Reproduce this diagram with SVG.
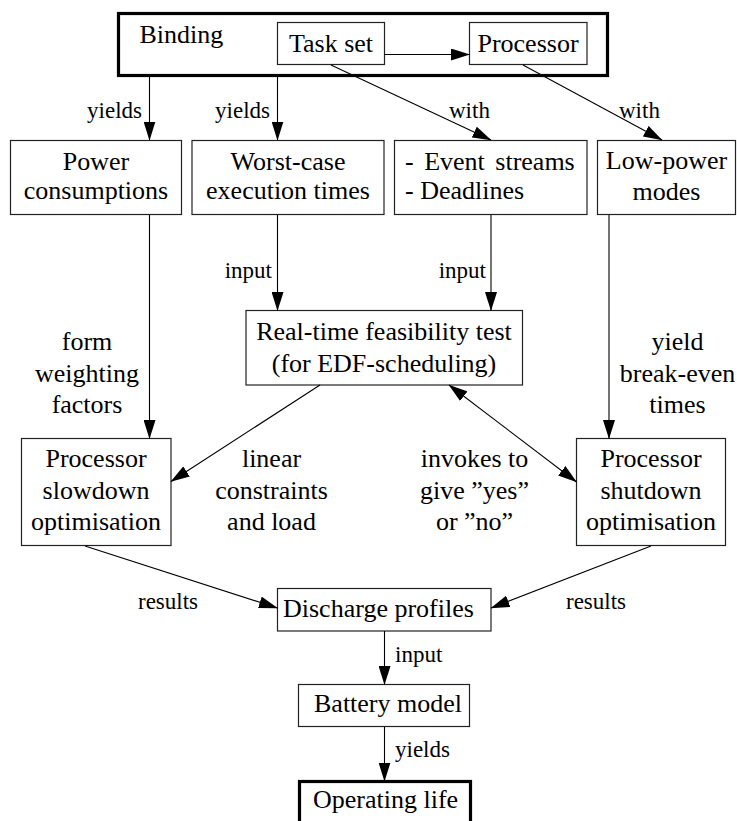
<svg xmlns="http://www.w3.org/2000/svg" width="737" height="821" viewBox="0 0 737 821">
  <defs>
    <marker id="arrow" markerUnits="userSpaceOnUse" markerWidth="19" markerHeight="12" refX="18.5" refY="6" orient="auto-start-reverse" viewBox="0 0 19 12">
      <path d="M0,0 L19,6 L0,12 z" fill="#000"/>
    </marker>
    <style>
      .box { fill: #fff; stroke: #222; stroke-width: 1.2; }
      .thick { fill: #fff; stroke: #000; stroke-width: 3.2; }
      .edge { fill: none; stroke: #000; stroke-width: 1.1; marker-end: url(#arrow); }
      .both { marker-start: url(#arrow); }
      text { font-family: "Liberation Serif", "Times New Roman", serif; fill: #000; }
      .n { font-size: 26px; text-anchor: middle; }
      .l { font-size: 26px; text-anchor: middle; }
      .s { font-size: 23px; }
    </style>
  </defs>

  <!-- nodes -->
  <g id="binding">
    <rect class="thick" x="118.5" y="13.5" width="489" height="62"/>
    <text x="139.5" y="43" style="font-size:26px">Binding</text>
  </g>
  <g id="taskset">
    <rect class="box" x="277.5" y="22.5" width="107" height="42"/>
    <text class="n" x="331" y="52">Task set</text>
  </g>
  <g id="processor">
    <rect class="box" x="469.5" y="22.5" width="117.5" height="42"/>
    <text class="n" x="528" y="52">Processor</text>
  </g>
  <g id="power">
    <rect class="box" x="10.5" y="140.5" width="171" height="74"/>
    <text class="n" x="96" y="170">Power</text>
    <text class="n" x="96" y="199">consumptions</text>
  </g>
  <g id="wcet">
    <rect class="box" x="192" y="140.5" width="192" height="74"/>
    <text class="n" x="288" y="170">Worst-case</text>
    <text class="n" x="288" y="199">execution times</text>
  </g>
  <g id="events">
    <rect class="box" x="394.5" y="140.5" width="192.5" height="74"/>
    <text x="405" y="170" style="font-size:26px;word-spacing:4px">- Event streams</text>
    <text x="405" y="199" style="font-size:26px">- Deadlines</text>
  </g>
  <g id="lowpower">
    <rect class="box" x="597.5" y="140.5" width="138" height="74"/>
    <text class="n" x="666.5" y="169">Low-power</text>
    <text class="n" x="666.5" y="200">modes</text>
  </g>
  <g id="feasibility">
    <rect class="box" x="246" y="310.5" width="276.5" height="74.5"/>
    <text class="n" x="384" y="339.5">Real-time feasibility test</text>
    <text class="n" x="384" y="371.5">(for EDF-scheduling)</text>
  </g>
  <g id="slowdown">
    <rect class="box" x="21.5" y="438.5" width="149.5" height="107"/>
    <text class="n" x="96" y="467">Processor</text>
    <text class="n" x="96" y="499">slowdown</text>
    <text class="n" x="96" y="530">optimisation</text>
  </g>
  <g id="shutdown">
    <rect class="box" x="576.5" y="438.5" width="149" height="107"/>
    <text class="n" x="651" y="467">Processor</text>
    <text class="n" x="651" y="499">shutdown</text>
    <text class="n" x="651" y="530">optimisation</text>
  </g>
  <g id="discharge">
    <rect class="box" x="277.5" y="588.5" width="213.5" height="42.5"/>
    <text x="283" y="617" style="font-size:26px">Discharge profiles</text>
  </g>
  <g id="battery">
    <rect class="box" x="298.5" y="684.5" width="171" height="42"/>
    <text x="314" y="712" style="font-size:26px">Battery model</text>
  </g>
  <g id="operating">
    <rect class="thick" x="299.5" y="781.5" width="171" height="52"/>
    <text x="313" y="808" style="font-size:26px">Operating life</text>
  </g>

  <!-- connectors -->
  <g id="connectors">
    <line class="edge" x1="384.5" y1="54.5" x2="469.5" y2="54.5"/>
    <line class="edge" x1="149.5" y1="77" x2="149.5" y2="140"/>
    <line class="edge" x1="277.5" y1="77" x2="277.5" y2="140"/>
    <line class="edge" x1="331" y1="65" x2="491" y2="140"/>
    <line class="edge" x1="523" y1="65" x2="662" y2="140"/>
    <line class="edge" x1="149.5" y1="215" x2="149.5" y2="438.5"/>
    <line class="edge" x1="277.5" y1="215" x2="277.5" y2="310.5"/>
    <line class="edge" x1="491" y1="215" x2="491" y2="310.5"/>
    <line class="edge" x1="609" y1="215" x2="609" y2="438.5"/>
    <line class="edge" x1="320" y1="385" x2="171" y2="481.5"/>
    <line class="edge both" x1="449" y1="385" x2="576.5" y2="482"/>
    <line class="edge" x1="85" y1="546" x2="277.5" y2="608"/>
    <line class="edge" x1="651" y1="546" x2="491" y2="608"/>
    <line class="edge" x1="384.5" y1="631" x2="384.5" y2="684.5"/>
    <line class="edge" x1="384.5" y1="727" x2="384.5" y2="781"/>

    <!-- connector labels -->
    <text class="s" x="142" y="118" text-anchor="end">yields</text>
    <text class="s" x="270" y="118" text-anchor="end">yields</text>
    <text class="s" x="449" y="118">with</text>
    <text class="s" x="619" y="118">with</text>
    <text class="s" x="272" y="278" text-anchor="end">input</text>
    <text class="s" x="486" y="278" text-anchor="end">input</text>
    <text class="l" x="87" y="350">form</text>
    <text class="l" x="87" y="381.5">weighting</text>
    <text class="l" x="87" y="413">factors</text>
    <text class="l" x="677.5" y="350">yield</text>
    <text class="l" x="677.5" y="381.5">break-even</text>
    <text class="l" x="677.5" y="413">times</text>
    <text class="l" x="271.5" y="467">linear</text>
    <text class="l" x="271.5" y="499">constraints</text>
    <text class="l" x="271.5" y="530">and load</text>
    <text class="l" x="474.5" y="467">invokes to</text>
    <text class="l" x="474.5" y="499">give ”yes”</text>
    <text class="l" x="474.5" y="530">or ”no”</text>
    <text class="s" x="138" y="609">results</text>
    <text class="s" x="566" y="609">results</text>
    <text class="s" x="395" y="662">input</text>
    <text class="s" x="395" y="757">yields</text>
  </g>
</svg>
